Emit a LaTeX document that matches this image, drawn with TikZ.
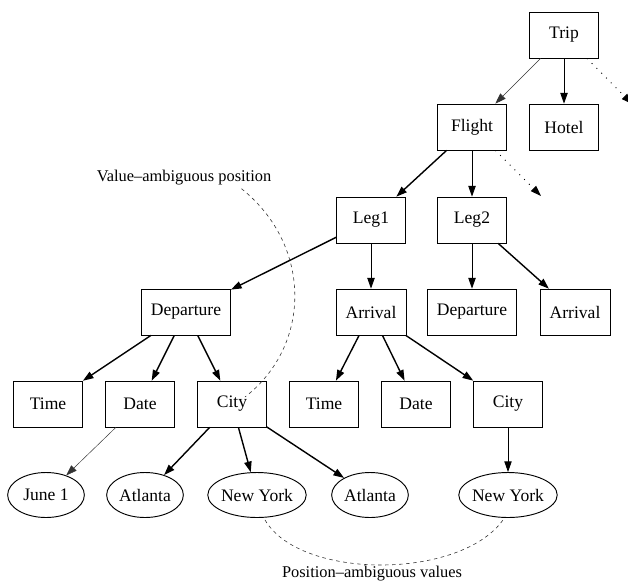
\documentclass[tikz,border=0pt]{standalone}
\usepackage{fontspec}
\setmainfont{Liberation Serif}
\usepackage{tikz}
\usetikzlibrary{shapes,arrows,positioning,calc,arrows.meta}

\begin{document}
\begin{tikzpicture}[x=0.03cm, y=-0.03cm, >={Triangle[length=0.32cm,width=0.22cm]},
    block/.style={rectangle, draw, line width=0.6pt, minimum width=2.07cm, minimum height=1.38cm, inner xsep=0.285cm, font=\fontsize{15}{18}\selectfont},
    value/.style={ellipse, draw, line width=0.8pt, minimum width=2.3cm, minimum height=1.35cm, inner xsep=-1pt, inner ysep=0pt, font=\fontsize{15}{18}\selectfont},
    note/.style={inner sep=0pt, font=\fontsize{14}{16}\selectfont},
    heavy/.style={->, line width=1.2pt},
    plain/.style={->, line width=0.7pt},
    light/.style={->, line width=0.4pt, black!80},
    more/.style={->, line width=0.8pt, dash pattern=on 0.8pt off 5pt},
    link/.style={line width=0.5pt, black!80, dash pattern=on 3pt off 3pt}]
    \clip (0,0) rectangle (628,584);
    \node[block] (trip) at (564,35) {Trip};
    \node[block] (flight) at (472,127) {Flight};
    \node[block] (hotel) at (564,127) {Hotel};
    \node[block] (leg1) at (371,220) {Leg1};
    \node[block] (leg2) at (472,220) {Leg2};
    \node[block] (dep1) at (186,312) {Departure};
    \node[block] (arr1) at (371,312) {Arrival};
    \node[block] (dep2) at (472,312) {Departure};
    \node[block] (arr2) at (575,312) {Arrival};
    \node[block] (time1) at (48,404) {Time};
    \node[block] (date1) at (140,404) {Date};
    \node[block] (city1) at (232,404) {City};
    \node[block] (time2) at (324,404) {Time};
    \node[block] (date2) at (416,404) {Date};
    \node[block] (city2) at (508,404) {City};
    \node[value] (june) at (46,495) {June 1};
    \node[value] (atl1) at (145,495) {Atlanta};
    \node[value] (nyork1) at (257,495) {New York};
    \node[value] (atl2) at (370,495) {Atlanta};
    \node[value] (nyork2) at (508,495) {New York};
    \node[note] (vlabel) at (184,178) {Value--ambiguous position};
    \node[note] (plabel) at (372,574) {Position--ambiguous values};
    \coordinate (tripmore) at (632,104);
    \coordinate (flightmore) at (541,196);

    \draw[light] (trip) -- (flight);
    \draw[plain] (trip) -- (hotel);
    \draw[more] (trip) -- (tripmore);
    \draw[heavy] (flight) -- (leg1);
    \draw[plain] (flight) -- (leg2);
    \draw[more] (flight) -- (flightmore);
    \draw[heavy] (leg1) -- (dep1);
    \draw[plain] (leg1) -- (arr1);
    \draw[plain] (leg2) -- (dep2);
    \draw[heavy] (leg2) -- (arr2);
    \draw[heavy] (dep1) -- (time1);
    \draw[heavy] (dep1) -- (date1);
    \draw[heavy] (dep1) -- (city1);
    \draw[heavy] (arr1) -- (time2);
    \draw[heavy] (arr1) -- (date2);
    \draw[heavy] (arr1) -- (city2);
    \draw[light] (date1) -- (june);
    \draw[heavy] (city1) -- (atl1);
    \draw[heavy] (city1) -- (nyork1);
    \draw[heavy] (city1) -- (atl2);
    \draw[plain] (city2) -- (nyork2);

    \draw[link] ($(vlabel.south east)+(-30,3)$) .. controls (312,245) and (312,345) .. ($(city1.center)+(13,-7)$);
    \draw[link] ($(nyork1.south)+(8,2)$) .. controls (300,580) and (460,580) .. ($(nyork2.south)+(-5,2)$);
\end{tikzpicture}
\end{document}
